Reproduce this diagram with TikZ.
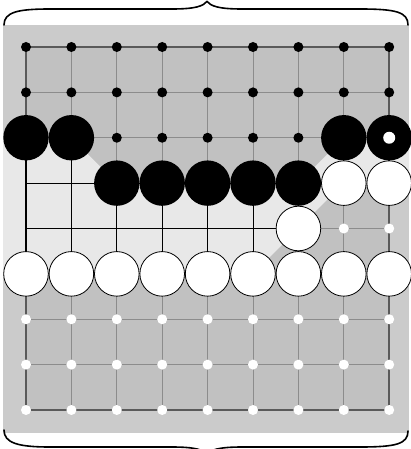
\documentclass[tikz,border=0pt]{standalone}
\definecolor{outergray}{HTML}{CBCBCB}
\definecolor{innergray}{HTML}{C1C1C1}
\definecolor{bandgray}{HTML}{E8E8E8}
\definecolor{linegray}{HTML}{8C8C8C}
\definecolor{edgegray}{HTML}{5A5A5A}
\newcommand{\boardlines}[2]{%
  \foreach \k in {1,...,7} {
    \draw[#1, line width=0.9pt] (p\k0) -- (p\k8);
    \draw[#1, line width=0.9pt] (p0\k) -- (p8\k);
  }
  \draw[#2, line width=1.9pt] (p00) rectangle (p88);
}
\begin{document}
\begin{tikzpicture}[x=1pt,y=-1pt,
  blackstone/.style={fill=black},
  whitestone/.style={fill=white,draw=black,line width=0.8pt},
  bracestyle/.style={draw=black,line width=1.6pt,line cap=round}]
\useasboundingbox (0,0) rectangle (410,449);
\foreach \i in {0,...,8} {
  \foreach \j in {0,...,8} {
    \coordinate (p\i\j) at ({26+45.4*\i},{47+45.375*\j});
  }
}
% backgrounds
\fill[outergray] (3,25) rectangle (409,433);
\fill[innergray] (p00) rectangle (p88);
\fill[bandgray] (3,137.75) -- (p02) -- (p12) -- (p23) -- (p63) -- (p72) -- (409,137.75)
  -- (409,183.1) -- (p73) -- (p64) -- (p55) -- (3,273.9) -- cycle;
% grid lines
\boardlines{linegray}{edgegray}
\begin{scope}
  \clip (3,137.75) -- (p02) -- (p12) -- (p23) -- (p63) -- (p72) -- (409,137.75)
  -- (409,183.1) -- (p73) -- (p64) -- (p55) -- (3,273.9) -- cycle;
  \boardlines{black}{black}
\end{scope}
% small dots (territory)
\foreach \i in {0,...,8} {
  \fill[black] (p\i0) circle (5);
  \fill[black] (p\i1) circle (5);
  \fill[white] (p\i6) circle (5);
  \fill[white] (p\i7) circle (5);
  \fill[white] (p\i8) circle (5);
}
\foreach \i in {2,...,6} { \fill[black] (p\i2) circle (5); }
\fill[white] (p74) circle (5);
\fill[white] (p84) circle (5);
% stones
\foreach \p in {02,12,72,82,23,33,43,53,63} {
  \fill[blackstone] (p\p) circle (22.7);
}
\foreach \p in {73,83,64,05,15,25,35,45,55,65,75,85} {
  \draw[whitestone] (p\p) circle (22.3);
}
\fill[white] (p82) circle (6);
% braces
\draw[bracestyle] (4,25) .. controls (4,12) and (18,9) .. (50,9) -- (172,9)
  .. controls (196,9) and (203,6) .. (207,1.5)
  .. controls (211,6) and (218,9) .. (242,9) -- (360,9)
  .. controls (396,9) and (408,12) .. (408,25);
\draw[bracestyle] (4,430) .. controls (4,443) and (18,447) .. (50,447) -- (172,447)
  .. controls (196,447) and (203,450) .. (207,454)
  .. controls (211,450) and (218,447) .. (242,447) -- (360,447)
  .. controls (396,447) and (408,444) .. (408,431);
\end{tikzpicture}
\end{document}
